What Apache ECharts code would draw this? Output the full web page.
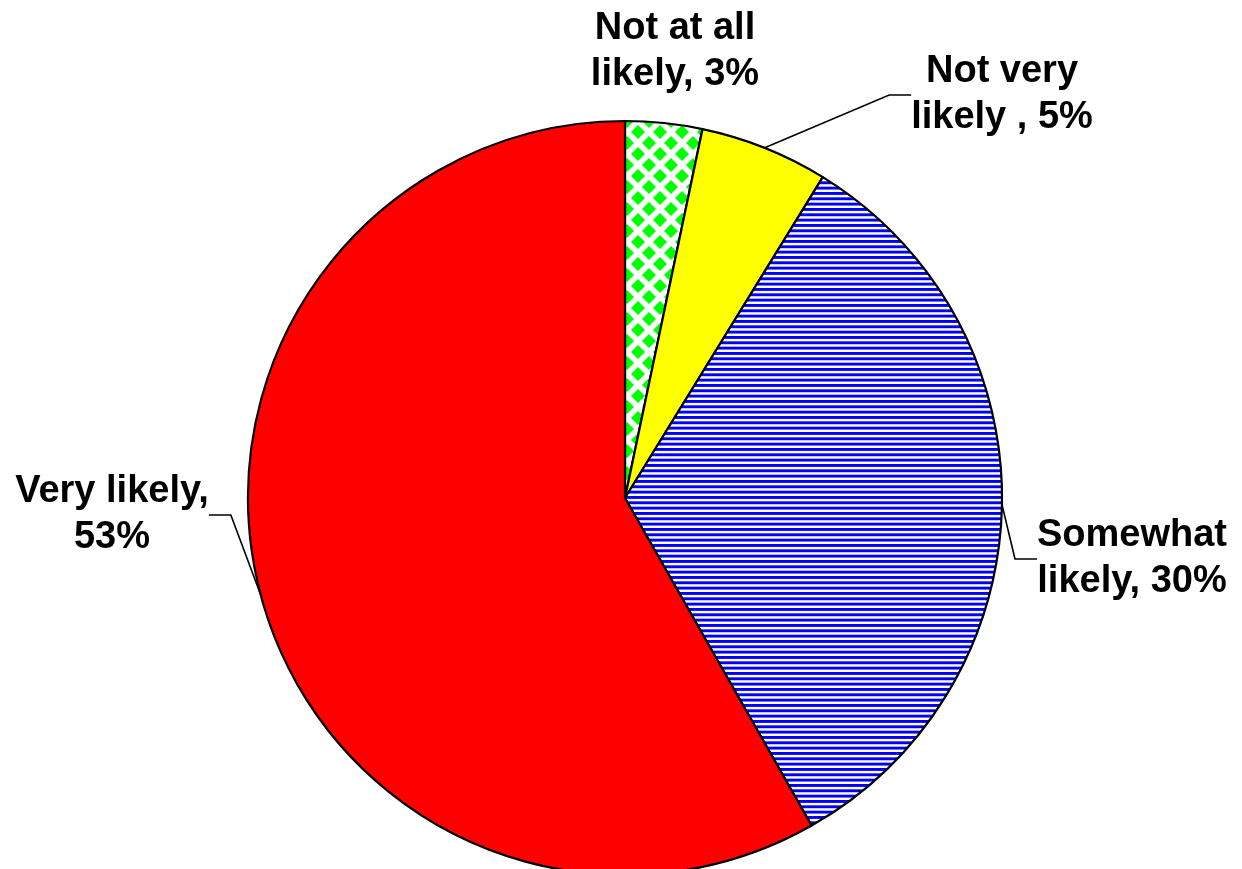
<!DOCTYPE html>
<html>
<head>
<meta charset="utf-8">
<script src="https://cdn.jsdelivr.net/npm/echarts@6/dist/echarts.min.js"></script>
<style>
  html, body { margin: 0; padding: 0; background: #fff; }
  #chart { width: 1242px; height: 869px; }
</style>
</head>
<body>
<div id="chart"></div>
<script>
// slice names (line breaks as in the original labels) and percentages
const categories = ["Not at all\nlikely", "Not very\nlikely ", "Somewhat\nlikely", "Very likely"];
const values = [3, 5, 30, 53];

// label centres, in pixels
const labelPos = [[675, 52], [1002, 95], [1132, 559], [112, 515]];

function diamondPattern() {
  const c = document.createElement("canvas");
  c.width = 22; c.height = 22;
  const ctx = c.getContext("2d");
  ctx.fillStyle = "#fff";
  ctx.fillRect(0, 0, 22, 22);
  ctx.fillStyle = "#00ff00";
  const r = 7;
  [[11, 11], [0, 0], [22, 0], [0, 22], [22, 22]].forEach(p => {
    ctx.beginPath();
    ctx.moveTo(p[0], p[1] - r);
    ctx.lineTo(p[0] + r, p[1]);
    ctx.lineTo(p[0], p[1] + r);
    ctx.lineTo(p[0] - r, p[1]);
    ctx.closePath();
    ctx.fill();
  });
  return c;
}

function stripePattern() {
  // three stripes every 16px
  const c = document.createElement("canvas");
  c.width = 8; c.height = 16;
  const ctx = c.getContext("2d");
  ctx.fillStyle = "#fff";
  ctx.fillRect(0, 0, 8, 16);
  ctx.fillStyle = "#0000ff";
  for (let k = 0; k < 3; k++) {
    ctx.fillRect(0, k * 16 / 3, 8, 2.9);
  }
  return c;
}

const fills = [
  { image: diamondPattern(), repeat: "repeat" },
  "#ffff00",
  { image: stripePattern(), repeat: "repeat" },
  "#ff0000"
];

let myChart = echarts.init(document.getElementById("chart"));

let option = {
  backgroundColor: "#fff",
  animation: false,
  series: [
    {
      type: "pie",
      center: [625, 498],
      radius: 377,
      startAngle: 90,
      clockwise: true,
      avoidLabelOverlap: false,
      itemStyle: {
        borderColor: "#000",
        borderWidth: 2.2
      },
      label: {
        show: true,
        position: "outside",
        color: "#000",
        fontFamily: "Liberation Sans, Arial, sans-serif",
        fontWeight: "bold",
        fontSize: 38,
        lineHeight: 46,
        align: "center",
        formatter: function(p) {
          let sep = p.name.indexOf("\n") >= 0 ? ", " : ",\n";
          return p.name + sep + p.value + "%";
        }
      },
      labelLine: {
        show: true,
        length: 20,
        length2: 22,
        smooth: false,
        lineStyle: { color: "#000", width: 1.6 }
      },
      labelLayout: function(params) {
        const pos = labelPos[params.dataIndex];
        return { x: pos[0], y: pos[1], align: "center", verticalAlign: "middle" };
      },
      data: categories.map((name, i) => ({
        name: name,
        value: values[i],
        itemStyle: { color: fills[i] },
        labelLine: { show: i !== 0 }
      }))
    }
  ]
};

myChart.setOption(option);
window.addEventListener("resize", () => myChart.resize(), false);
</script>
</body>
</html>
